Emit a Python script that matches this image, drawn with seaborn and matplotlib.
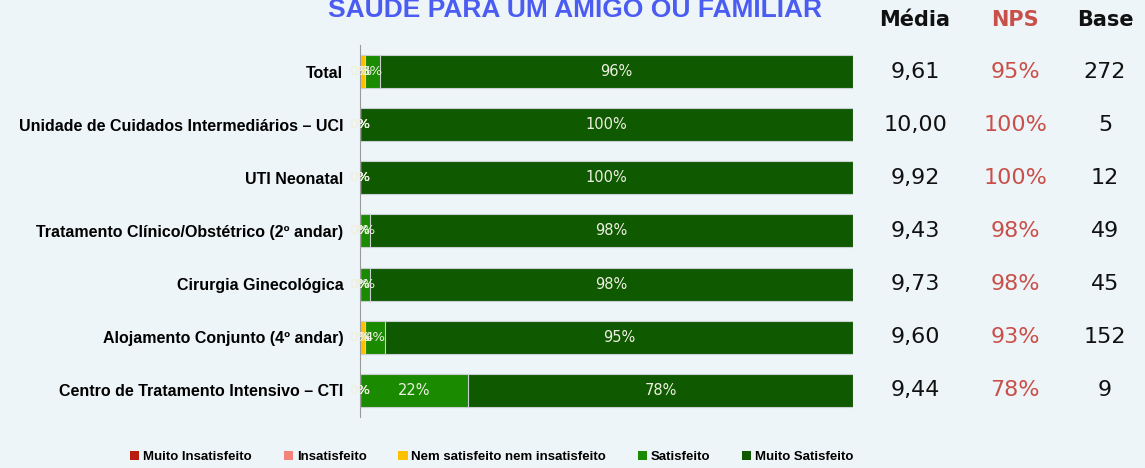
import matplotlib
matplotlib.use('Agg')
import matplotlib.pyplot as plt
import pandas as pd
import seaborn as sns
from matplotlib.patches import Patch
from matplotlib.transforms import blended_transform_factory

# Data
categories = ['Total', 'Unidade de Cuidados Intermediários – UCI', 'UTI Neonatal',
              'Tratamento Clínico/Obstétrico (2º andar)', 'Cirurgia Ginecológica',
              'Alojamento Conjunto (4º andar)', 'Centro de Tratamento Intensivo – CTI']
levels = ['Muito Insatisfeito', 'Insatisfeito', 'Nem satisfeito nem insatisfeito',
          'Satisfeito', 'Muito Satisfeito']
muito_insatisfeito = [0, 0, 0, 0, 0, 0, 0]
insatisfeito = [0, 0, 0, 0, 0, 0, 0]
nem = [1, 0, 0, 0, 0, 1, 0]
satisfeito = [3, 0, 0, 2, 2, 4, 22]
muito_satisfeito = [96, 100, 100, 98, 98, 95, 78]
media = ['9,61', '10,00', '9,92', '9,43', '9,73', '9,60', '9,44']
nps = ['95%', '100%', '100%', '98%', '98%', '93%', '78%']
base = ['272', '5', '12', '49', '45', '152', '9']

colors = ['#b81c0c', '#f4837a', '#ffc000', '#1a8a00', '#0f5900']
bg = '#eef5f8'

series = [muito_insatisfeito, insatisfeito, nem, satisfeito, muito_satisfeito]
df = pd.DataFrame({lv: s for lv, s in zip(levels, series)}, index=categories)
cum = df.cumsum(axis=1)

sns.set_style('white')
plt.rcParams['font.family'] = ['Liberation Sans', 'DejaVu Sans']
plt.rcParams['text.color'] = 'black'
plt.rcParams['ytick.color'] = 'black'
plt.rcParams['ytick.labelcolor'] = 'black'

fig = plt.figure(figsize=(11.45, 4.68), dpi=100, facecolor=bg)
ax = fig.add_axes([0.3144, 0.109, 0.4306, 0.795])
ax.set_facecolor(bg)

# stacked bars: draw cumulative totals from the largest down
for lv, col in reversed(list(zip(levels, colors))):
    d = pd.DataFrame({'cat': categories, 'val': cum[lv].values})
    sns.barplot(data=d, x='val', y='cat', color=col, orient='h', width=0.62,
                saturation=1, edgecolor='#c9cfd2', linewidth=0.8, ax=ax)

# segment labels
for i, cat in enumerate(categories):
    left = 0
    for lv in levels:
        v = df.loc[cat, lv]
        fs = 10.5 if v > 10 else 9.5
        ax.text(left + v / 2, i, f'{v}%', ha='center', va='center', color='#eef0e2',
                fontsize=fs, family='DejaVu Sans')
        left += v

ax.set_xlim(0, 100)
ax.set_ylim(6.5, -0.5)
ax.set_xlabel('')
ax.set_ylabel('')
ax.set_xticks([])
ax.set_yticks(range(len(categories)))
ax.set_yticklabels(categories, fontsize=11.5, fontweight='bold')
ax.set_yticks([-0.5 + k for k in range(8)], minor=True)
ax.tick_params(axis='y', which='major', length=0, pad=12)
ax.tick_params(axis='y', which='minor', length=5, color='#9a9a9a', width=1)
for s in ['top', 'right', 'bottom']:
    ax.spines[s].set_visible(False)
ax.spines['left'].set_color('#9a9a9a')

# right-hand columns
tr = blended_transform_factory(fig.transFigure, ax.transData)
cols = [(915 / 1145, 'Média', media, '#111111'),
        (1015 / 1145, 'NPS', nps, '#c9504a'),
        (1105 / 1145, 'Base', base, '#111111')]
for x, head, vals, col in cols:
    fig.text(x, 1 - 20 / 468, head, ha='center', va='center', fontsize=15,
             fontweight='bold', color=col, family='DejaVu Sans')
    for i, v in enumerate(vals):
        ax.text(x, i, v, transform=tr, ha='center', va='center', fontsize=16,
                color=col, family='DejaVu Sans')

# title (cut at top, as in the slide)
fig.text(575 / 1145, 1 - 17 / 468, 'SAÚDE PARA UM AMIGO OU FAMILIAR', ha='center',
         va='baseline', fontsize=19, fontweight='bold', color='#4b5cf2')

handles = [Patch(facecolor=c, edgecolor='none') for c in colors]
leg_labels = ['Muito Insatisfeito', 'Insatisfeito', 'Nem satisfeito nem insatisfeito',
              'Satisfeito', 'Muito Satisfeito']
fig.legend(handles, leg_labels, loc='center', bbox_to_anchor=(492 / 1145, 1 - 457 / 468),
           ncol=5, frameon=False, handlelength=0.7, handleheight=0.7,
           handletextpad=0.3, columnspacing=2.4, prop={'weight': 'bold', 'size': 9.5})

fig.savefig('out.png', dpi=100, facecolor=bg)
